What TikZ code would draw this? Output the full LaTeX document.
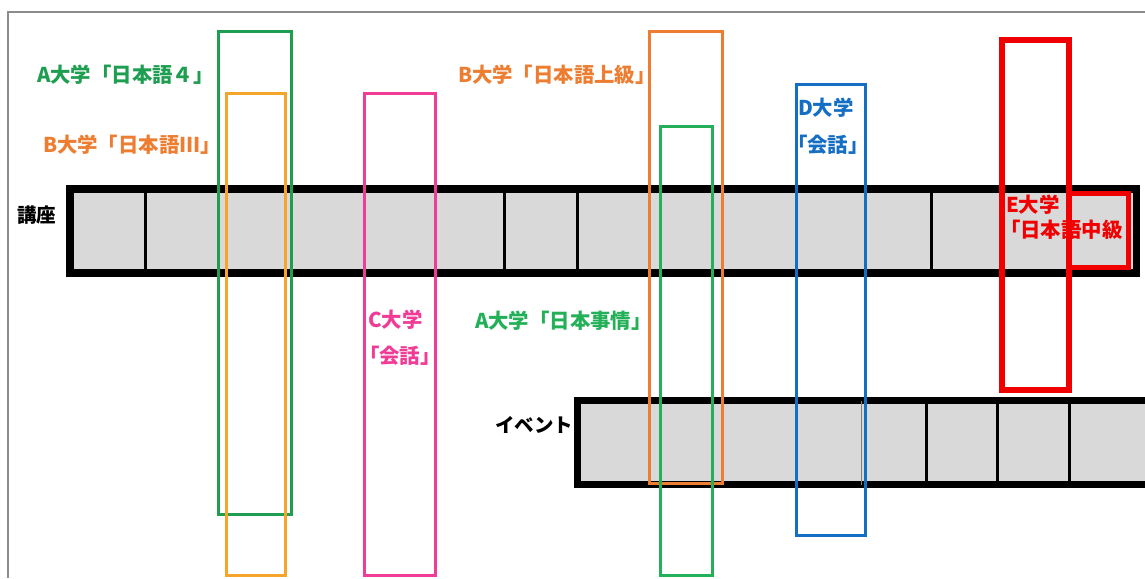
\documentclass[tikz,border=0pt]{standalone}
\usepackage{fontspec}
\newfontfamily\jp{Noto Sans CJK JP}
\definecolor{barfill}{RGB}{217,217,217}
\definecolor{gA}{RGB}{30,158,80}
\definecolor{gB}{RGB}{36,176,88}
\definecolor{oIII}{RGB}{244,165,42}
\definecolor{oB}{RGB}{237,125,49}
\definecolor{pC}{RGB}{240,60,150}
\definecolor{bD}{RGB}{20,110,195}
\definecolor{rE}{RGB}{240,0,0}
\definecolor{frameg}{RGB}{140,140,140}
\begin{document}
\begin{tikzpicture}[x=1pt,y=-1pt,
  lbl/.style={inner sep=0pt, outer sep=0pt, anchor=base west, font=\jp\bfseries\fontsize{19.5}{22}\selectfont},
  clbl/.style={lbl, font=\jp\bfseries\fontsize{20.4}{23}\selectfont},
  bar/.style={draw=black, fill=barfill, line width=7.5pt},
  cell/.style={draw=black, line width=3pt},
  uni/.style={draw=#1, line width=3pt},
  unithick/.style={draw=#1, line width=6pt}]
\useasboundingbox (0,0) rectangle (1145,578);
% frame
\draw[frameg, line width=1.2pt] (8,578) -- (8,12) -- (1145,12);
% lecture bar
\draw[bar] (69.75,189) rectangle (1136.25,273);
\foreach \x in {145,504,577.5,931.5} \draw[cell] (\x,189) -- (\x,273);
% event bar
\fill[barfill] (577,400.5) rectangle (1160,484.5);
\draw[black, line width=7pt] (1160,400.5) -- (577,400.5) -- (577,484.5) -- (1160,484.5);
\draw[gray, line width=1pt] (861,400.5) -- (861,484.5);
\foreach \x in {926.5,997.3,1069} \draw[cell] (\x,400.5) -- (\x,484.5);
% university boxes
\draw[uni=gA] (218.5,31.5) rectangle (291.5,514.7);
\draw[uni=oIII] (226.5,93.5) rectangle (285,575);
\draw[uni=pC] (364.5,93.5) rectangle (435,575);
\draw[uni=oB] (649,31.5) rectangle (722.5,483.5);
\draw[uni=gB] (660,126.5) rectangle (712.5,575);
\draw[uni=bD] (796,84.5) rectangle (865.5,535.5);
\draw[unithick=rE] (1002,40.5) rectangle (1068.5,390);
\draw[line width=5pt, rE] (1068.5,193.5) -- (1128,193.5) -- (1128,267.5) -- (1068.5,267.5);
% labels
\node[lbl] (koza) at (17,222) {講座};
\node[lbl] (event) at (495,432) {イベント};
\node[clbl, text=gA] (a4) at (37,82.3) {A大学「日本語４」};
\node[clbl, text=oB] (b3) at (43,152.3) {B大学「日本語III」};
\node[clbl, text=oB] (bj) at (458,82.3) {B大学「日本語上級」};
\node[clbl, text=pC] (c1) at (368,327.8) {C大学};
\node[clbl, text=pC] (c2) at (359,363.8) {「会話」};
\node[clbl, text=gB] (aj) at (475,328.3) {A大学「日本事情」};
\node[clbl, text=bD] (d1) at (798,115.3) {D大学};
\node[clbl, text=bD] (d2) at (787,152.3) {「会話」};
\node[clbl, text=rE] (e1) at (1006,212.3) {E大学};
\node[clbl, text=rE] (e2) at (1000,237.3) {「日本語中級};
\end{tikzpicture}
\end{document}
